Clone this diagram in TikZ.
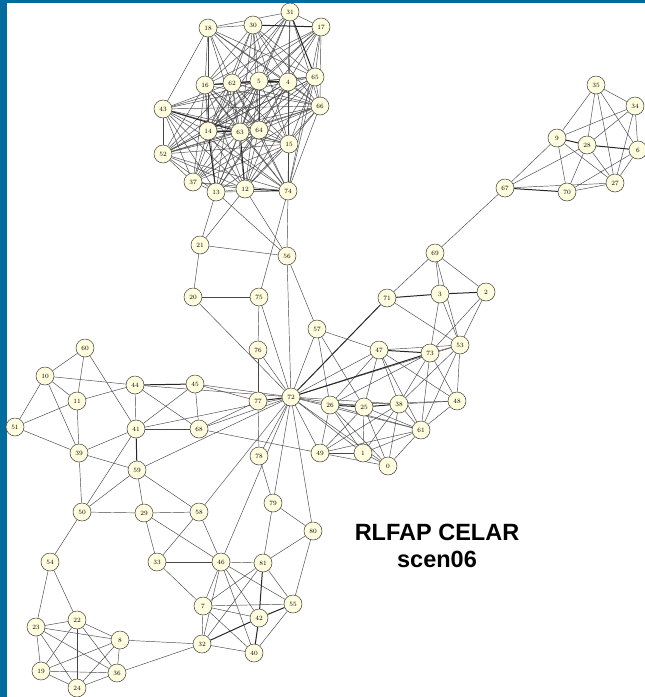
\documentclass[tikz,border=0pt]{standalone}
\usepackage{fontspec}
\newfontfamily\labelfont{Liberation Sans}
\usepackage{tikz}
\usetikzlibrary{backgrounds}
\definecolor{framecol}{RGB}{0,108,158}
\definecolor{nodefill}{RGB}{255,253,222}
\definecolor{edgecol}{RGB}{70,70,70}

\begin{document}
\begin{tikzpicture}[x=1pt,y=-1pt,
  vtx/.style={circle,draw=black!75,fill=nodefill,line width=0.5pt,minimum size=18pt,inner sep=0pt,font=\fontsize{6.5}{7}\selectfont},
  lnk/.style={draw=edgecol,line width=0.45pt},
  heavy/.style={draw=black!85,line width=1pt}]
\useasboundingbox (0,0) rectangle (645,697);
% vertices
\foreach \i/\x/\y in {31/290/12,30/253/25,18/208/28,17/321/27,65/315/77,4/288/82,5/259/81,62/232/83,16/205/85,66/320/106,
  43/163/109,14/208/131,63/240/132,64/259/130,15/289/144,52/163/154,37/193/182,13/216/192,12/245/189,74/288/191,
  35/596/85,34/635/106,9/557/138,28/587/145,6/638/150,27/615/183,70/567/192,67/505/188,
  21/200/245,56/287/256,20/193/297,75/259/297,57/317/329,76/258/350,72/291/397,77/258/401,
  69/435/253,2/486/292,3/440/294,71/387/298,53/460/345,47/379/350,73/430/353,48/457/401,
  26/330/405,25/364/407,38/399/404,61/421/430,49/320/453,1/363/453,0/388/466,
  60/85/348,10/45/376,44/135/385,45/195/384,11/77/401,51/15/427,41/136/429,68/199/429,
  39/79/453,59/137/470,50/82/512,29/144/513,58/199/512,
  78/259/456,79/273/503,80/313/531,33/157/562,46/221/562,81/263/563,7/203/606,55/293/604,42/259/618,
  54/50/562,22/77/620,23/36/627,8/120/640,32/202/644,40/254/653,19/41/671,36/117/673,24/77/688}
  {\node[vtx] (n\i) at (\x,\y) {\i};}
\node[font=\labelfont\bfseries\fontsize{23.5}{27}\selectfont,align=center,inner sep=0pt] (title) at (437,546) {RLFAP CELAR\\scen06};
\begin{scope}[on background layer]
\fill[white] (0,0) rectangle (645,697);
\fill[framecol] (0,0) rectangle (7,697);
\fill[framecol] (0,0) rectangle (645,3);
% top cluster
\foreach \a/\b in {18/30,18/31,31/17,18/16,18/43,18/62,18/5,18/4,18/65,18/66,18/14,18/63,
  30/16,30/62,30/5,30/4,30/65,30/66,30/14,30/63,30/64,30/15,
  31/16,31/62,31/5,31/4,31/66,31/74,31/14,31/63,
  17/16,17/62,17/5,17/4,17/65,17/66,17/14,17/63,17/74,
  16/5,16/4,16/65,16/66,62/4,62/65,62/66,5/65,5/66,4/66,65/66,4/65,
  16/14,16/63,16/64,16/52,16/37,16/13,16/12,16/15,16/74,
  62/43,62/14,62/63,62/64,62/52,62/37,62/13,62/12,62/15,62/74,
  5/43,5/14,5/63,5/64,5/52,5/37,5/13,5/12,5/15,
  4/43,4/14,4/63,4/64,4/52,4/13,4/12,4/15,4/74,
  65/14,65/63,65/64,65/52,65/15,65/74,65/12,
  66/43,66/14,66/63,66/64,66/52,66/15,66/74,66/12,66/37,
  43/52,43/14,43/64,43/15,43/37,43/13,43/12,43/74,
  14/64,14/15,14/52,14/37,14/12,14/74,
  63/64,63/15,63/52,63/37,63/13,63/74,
  64/15,64/52,64/37,64/13,64/12,64/74,
  15/52,15/37,15/13,15/12,15/74,
  52/37,52/13,52/12,52/74,37/13,37/12,37/74,13/12,13/74}
  {\draw[lnk] (n\a) -- (n\b);}
% right cluster
\foreach \a/\b in {35/34,35/9,35/28,35/27,35/6,34/9,34/28,34/6,34/27,9/67,9/70,9/27,
  28/67,28/70,28/27,6/27,6/70,67/27,70/27,67/69}
  {\draw[lnk] (n\a) -- (n\b);}
% middle
\foreach \a/\b in {13/21,12/21,13/56,12/56,74/56,74/75,21/56,21/20,20/75,20/72,75/76,75/72,56/72,56/57,
  76/77,76/72,57/72,57/47,57/26,57/25,71/69,
  72/47,72/53,72/26,72/25,72/38,72/61,72/49,72/1,72/0,
  69/3,69/2,69/53,71/53,3/73,3/53,2/73,2/53,
  47/53,47/25,47/26,47/38,47/48,47/61,73/53,73/38,73/61,73/26,73/48,
  53/48,53/38,53/61,48/38,48/61,48/26,
  26/49,26/1,26/0,26/61,25/1,25/0,25/49,25/61,38/61,38/49,38/1,38/0,
  61/49,61/1,61/0,49/1,49/0,1/0}
  {\draw[lnk] (n\a) -- (n\b);}
% left and bottom
\foreach \a/\b in {60/10,60/11,60/41,10/11,10/44,10/51,10/39,11/44,11/39,11/51,51/39,
  44/41,44/68,44/72,45/72,45/77,45/41,45/68,41/68,41/39,41/50,41/72,68/72,68/77,68/49,
  39/59,39/50,59/29,59/58,59/50,59/72,50/29,50/54,29/58,29/33,29/46,58/33,58/46,58/72,
  77/78,72/78,72/79,72/80,72/46,78/79,79/81,79/80,80/81,80/55,
  33/46,33/7,46/81,46/7,46/32,46/42,46/40,46/55,81/7,81/55,81/32,
  7/55,7/42,7/32,7/40,55/40,32/40,32/8,32/36,
  54/23,54/22,23/22,23/8,23/19,23/24,23/36,22/8,22/24,22/19,22/36,
  8/19,8/36,8/24,19/24,19/36,24/36}
  {\draw[lnk] (n\a) -- (n\b);}
% multiple constraints
\foreach \a/\b in {30/17,31/65,16/62,62/5,5/4,43/63,14/63,14/13,63/12,12/74,
  9/28,28/6,67/70,72/71,71/3,3/2,47/73,72/73,72/77,26/25,25/38,
  44/45,41/59,81/42,42/55,42/32,42/40}
  {\draw[heavy] (n\a) -- (n\b);}
\end{scope}
\end{tikzpicture}
\end{document}
